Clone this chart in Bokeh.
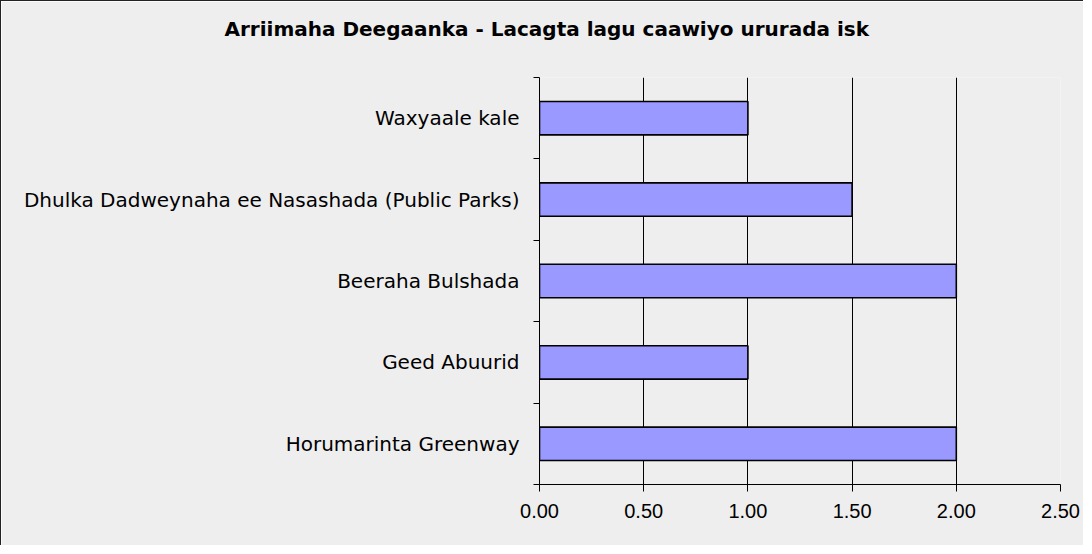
from bokeh.plotting import figure
from bokeh.models import Range1d, FixedTicker, NumeralTickFormatter, Title, LinearAxis
from bokeh.embed import file_html
from bokeh.resources import INLINE

# ---- data (top to bottom as displayed) ----
categories = [
    "Waxyaale kale",
    "Dhulka Dadweynaha ee Nasashada (Public Parks)",
    "Beeraha Bulshada",
    "Geed Abuurid",
    "Horumarinta Greenway",
]
values = [1.0, 1.5, 2.0, 1.0, 2.0]
x_ticks = [0.0, 0.5, 1.0, 1.5, 2.0, 2.5]
title_text = "Arriimaha Deegaanka - Lacagta lagu caawiyo ururada isk"

n = len(categories)
centers = [n - i - 0.5 for i in range(n)]
boundaries = [float(i) for i in range(n + 1)]

BG = "#eeeeee"

p = figure(
    width=1083, height=545,
    x_range=Range1d(0, 2.5), y_range=Range1d(0, n),
    output_backend="svg", toolbar_location=None,
    min_border_left=538, min_border_right=24,
    min_border_top=76, min_border_bottom=62,
    background_fill_color=BG, border_fill_color=BG,
    outline_line_color=None,
)
p.styles = {"border-left": "1px solid #222222", "border-top": "1px solid #222222"}

p.hbar(y=centers, right=values, left=0, height=0.41,
       fill_color="#9999ff", line_color="#000000", line_width=1.6)

# blank spacer panel between frame and title (background-coloured tick, no label)
spacer = LinearAxis(ticker=FixedTicker(ticks=[x_ticks[-1] / 2]), axis_line_color=None,
                    major_tick_line_color=BG, minor_tick_line_color=None,
                    major_tick_out=37, major_tick_in=0, minor_tick_out=0, minor_tick_in=0,
                    major_label_overrides={x_ticks[-1] / 2: ""},
                    major_label_text_color=None, major_label_standoff=0)
p.add_layout(spacer, "above")

# title
p.title = Title(text=title_text, align="left", offset=-315, standoff=0,
                vertical_align="bottom",
                text_font="DejaVu Sans", text_font_size="20px",
                text_font_style="bold", text_color="#000000")

# x axis
xa = p.below[0]
xa.ticker = FixedTicker(ticks=x_ticks)
xa.formatter = NumeralTickFormatter(format="0.00")
xa.axis_line_color = "#000000"
xa.major_tick_line_color = "#000000"
xa.major_tick_out = 7
xa.major_tick_in = 0
xa.minor_tick_line_color = None
xa.major_label_text_font = "Liberation Sans"
xa.major_label_text_font_size = "20px"
xa.major_label_text_color = "#000000"
xa.major_label_standoff = 12

# y axis
ya = p.yaxis[0]
ya.ticker = FixedTicker(ticks=centers, minor_ticks=boundaries)
ya.major_label_overrides = {c: cat for c, cat in zip(centers, categories)}
ya.axis_line_color = "#000000"
ya.major_tick_out = 0
ya.major_tick_in = 0
ya.major_tick_line_color = None
ya.minor_tick_line_color = "#000000"
ya.minor_tick_out = 6
ya.minor_tick_in = 0
ya.major_label_text_font = "DejaVu Sans"
ya.major_label_text_font_size = "20px"
ya.major_label_text_color = "#000000"
ya.major_label_standoff = 14

# grids
xg = p.xgrid[0]
xg.ticker = xa.ticker
xg.grid_line_color = "#000000"
xg.grid_line_width = 1
xg.grid_line_alpha = 1
p.ygrid.grid_line_color = None

open("out.html", "w").write(file_html(p, INLINE))
